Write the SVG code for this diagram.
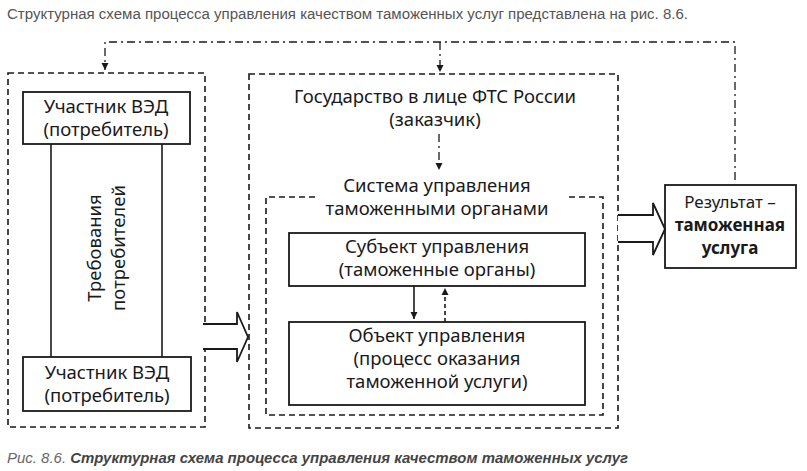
<svg xmlns="http://www.w3.org/2000/svg" width="807" height="471" viewBox="0 0 807 471">
<style>
.box{fill:#fff;stroke:#1a1a1a;stroke-width:1.8}
.dash{fill:none;stroke:#1a1a1a;stroke-width:1.6;stroke-dasharray:6 4}
.dd{fill:none;stroke:#1a1a1a;stroke-width:1.3;stroke-dasharray:8 4 2 4}
.ln{fill:none;stroke:#1a1a1a;stroke-width:1.6}
.t{font-family:"Noto Sans","Open Sans",sans-serif;font-size:18.5px;fill:#1a1a1a;text-anchor:middle}
.r{font-size:17px}
.b{font-weight:bold}
.hd{font-family:"Liberation Sans",Arial,sans-serif;font-size:14px;fill:#555}
</style>
<defs>
<marker id="ah" viewBox="0 0 10 10" refX="10" refY="5" markerWidth="7" markerHeight="9" markerUnits="userSpaceOnUse" orient="auto"><path d="M0,0 L10,5 L0,10 z" fill="#1a1a1a"/></marker>
</defs>
<rect width="807" height="471" fill="#fff"/>
<text class="hd" x="7" y="19" textLength="681" lengthAdjust="spacingAndGlyphs">Структурная схема процесса управления качеством таможенных услуг представлена на рис. 8.6.</text>

<g id="left-group">
<rect class="dash" x="8" y="73" width="197" height="354"/>
<line class="ln" x1="51" y1="144" x2="51" y2="357"/>
<line class="ln" x1="162" y1="144" x2="162" y2="357"/>
<text class="t" transform="translate(101,248) rotate(-90)">Требования</text>
<text class="t" transform="translate(125,248) rotate(-90)">потребителей</text>
</g>
<g id="ved-top">
<rect class="box" x="23" y="92" width="167" height="52"/>
<text class="t" x="106" y="113">Участник ВЭД</text>
<text class="t" x="106" y="136">(потребитель)</text>
</g>
<g id="ved-bottom">
<rect class="box" x="23" y="357" width="168" height="54"/>
<text class="t" x="107" y="379">Участник ВЭД</text>
<text class="t" x="107" y="402">(потребитель)</text>
</g>

<g id="state">
<rect class="dash" x="249" y="74" width="369" height="354"/>
<text class="t" x="435" y="103">Государство в лице ФТС России</text>
<text class="t" x="435" y="126">(заказчик)</text>
</g>
<g id="system">
<path class="dash" d="M315,197 H266 V415 H603 V197 H565"/>
<text class="t" x="437" y="192">Система управления</text>
<text class="t" x="437" y="215">таможенными органами</text>
</g>
<g id="subject">
<rect class="box" x="289" y="233" width="296" height="53"/>
<text class="t" x="437" y="253">Субъект управления</text>
<text class="t" x="437" y="276">(таможенные органы)</text>
</g>
<g id="object">
<rect class="box" x="289" y="322" width="296" height="83"/>
<text class="t" x="437" y="342">Объект управления</text>
<text class="t" x="437" y="365">(процесс оказания</text>
<text class="t" x="437" y="388">таможенной услуги)</text>
</g>
<g id="result">
<rect class="box" x="665" y="185" width="131" height="83"/>
<text class="t r" x="730" y="208">Результат –</text>
<text class="t r b" x="730" y="231">таможенная</text>
<text class="t r b" x="730" y="254">услуга</text>
</g>

<g id="connectors">
<path class="dd" d="M735,180 V42 H105 V70" marker-end="url(#ah)"/>
<path class="dd" d="M440,42 V72" marker-end="url(#ah)"/>
<path class="dd" d="M439,134 V170" marker-end="url(#ah)"/>
<path class="ln" d="M414,286 V319" marker-end="url(#ah)"/>
<path class="ln" d="M445,322 V288" stroke-dasharray="4 3" marker-end="url(#ah)"/>
<path class="box" d="M203,324 H237 V312 L248,337 L237,362 V349 H203"/>
<path class="box" d="M618,215 H653 V203 L665,229 L653,255 V242 H618"/>
</g>

<text x="7" y="463" font-family="'Liberation Sans',Arial,sans-serif" font-size="14" font-style="italic" fill="#666" textLength="621" lengthAdjust="spacingAndGlyphs">Рис. 8.6. <tspan font-weight="bold" fill="#444">Структурная схема процесса управления качеством таможенных услуг</tspan></text>
</svg>
